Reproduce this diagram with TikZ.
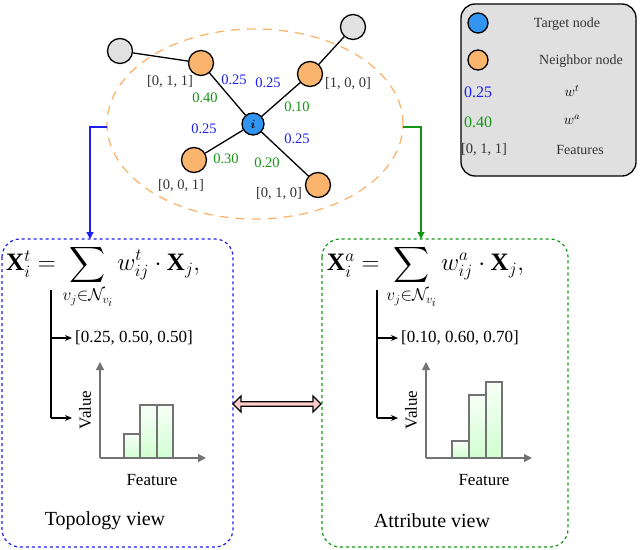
\documentclass[tikz,border=0pt]{standalone}
\usepackage{amsmath,amssymb}
\usepackage{fontspec}
\setmainfont{Liberation Serif}
\usetikzlibrary{arrows.meta,shapes.arrows}
\definecolor{nodeorange}{RGB}{250,180,110}
\definecolor{nodeblue}{RGB}{50,150,240}
\definecolor{nodegray}{RGB}{225,225,225}
\definecolor{wblue}{RGB}{30,30,240}
\definecolor{wgreen}{RGB}{20,150,20}
\tikzset{
  lw/.style={line width=1.3pt},
  nb/.style={circle,draw,lw,fill=nodeorange,minimum size=25pt,inner sep=0pt},
  far/.style={circle,draw,lw,fill=nodegray,minimum size=25pt,inner sep=0pt},
  tgt/.style={circle,draw,lw,fill=nodeblue,minimum size=22pt,inner sep=0pt},
  wt/.style={text=wblue,font=\fontsize{14.5}{16}\selectfont,inner sep=0pt},
  wa/.style={text=wgreen,font=\fontsize{14.5}{16}\selectfont,inner sep=0pt},
  feat/.style={text=black!80,font=\fontsize{14.5}{16}\selectfont,inner sep=0pt},
  small/.style={text=black!80,font=\fontsize{14}{15}\selectfont,inner sep=0pt},
  view/.style={rounded corners=18pt,dashed,line width=1.2pt},
  bar/.style={draw=black!55,line width=1.2pt,top color=green!3,bottom color=green!18},
  ax/.style={draw=black!55,line width=1.2pt,-{Triangle[length=8pt,width=8pt]}},
  lbl/.style={font=\fontsize{17}{18}\selectfont,inner sep=0pt},
  eq/.style={font=\fontsize{25}{28}\selectfont,inner sep=0pt,anchor=west},
  tip/.style={-{Stealth[length=7pt,width=6pt]}},
}
\begin{document}
\begin{tikzpicture}[x=1pt,y=-1pt]
\useasboundingbox (0,0) rectangle (640,549);
% graph
\draw[nodeorange,line width=1.3pt,dash pattern=on 9pt off 7pt] (255,124) ellipse (148pt and 95pt);
\node[tgt] (i) at (253,124) {\large$\boldsymbol{i}$};
\node[nb] (n1) at (201,63) {};
\node[nb] (n2) at (310,74) {};
\node[nb] (n3) at (194,160) {};
\node[nb] (n4) at (318,185) {};
\node[far] (g1) at (120,51) {};
\node[far] (g2) at (353,27) {};
\draw[lw] (i) -- (n1) (i) -- (n2) (i) -- (n3) (i) -- (n4) (n1) -- (g1) (n2) -- (g2);
\node[feat] at (170,82) {[0, 1, 1]};
\node[feat] at (348,84) {[1, 0, 0]};
\node[feat] at (181,186) {[0, 0, 1]};
\node[feat] at (279,194) {[0, 1, 0]};
\node[wt] at (234,80) {0.25};
\node[wt] at (268,83) {0.25};
\node[wt] at (204,129) {0.25};
\node[wt] at (297,139) {0.25};
\node[wa] at (205,98) {0.40};
\node[wa] at (297,107) {0.10};
\node[wa] at (226,159) {0.30};
\node[wa] at (267,163) {0.20};
% views
\draw[view,wblue] (2,239) rectangle (233,547);
\draw[view,wgreen] (322,239) rectangle (568,547);
\coordinate (el) at (107,127);
\coordinate (er) at (403,127);
\draw[wblue,lw,-{Triangle[length=7pt,width=7pt]}] (el) -- (90,127) -- (90,239);
\draw[wgreen,lw,-{Triangle[length=7pt,width=7pt]}] (er) -- (421,127) -- (421,239);
\node[eq] (fl) at (6,277) {$\mathbf{X}_i^t = \displaystyle\sum_{v_j\in\mathcal{N}_{v_i}} w_{ij}^t \cdot \mathbf{X}_j,$};
\node[eq] (fr) at (327,277) {$\mathbf{X}_i^a = \displaystyle\sum_{v_j\in\mathcal{N}_{v_i}} w_{ij}^a \cdot \mathbf{X}_j,$};
% left content
\draw[lw] (51,290) -- (51,418);
\draw[lw,tip] (51,338) -- (72,338);
\draw[lw,tip] (51,418) -- (72,418);
\node[lbl,anchor=west] at (75,338) {[0.25, 0.50, 0.50]};
\draw[bar] (124,458) rectangle (140,434);
\draw[bar] (140,458) rectangle (157,405);
\draw[bar] (157,458) rectangle (173,405);
\draw[ax] (100,458) -- (100,362);
\draw[ax] (100,458) -- (206,458);
\node[lbl,rotate=90] at (85,410) {Value};
\node[lbl] at (152,480) {Feature};
\node[font=\fontsize{20}{22}\selectfont,inner sep=0pt] at (105,521) {Topology view};
% right content
\draw[lw] (377,290) -- (377,418);
\draw[lw,tip] (377,338) -- (398,338);
\draw[lw,tip] (377,418) -- (398,418);
\node[lbl,anchor=west] at (401,338) {[0.10, 0.60, 0.70]};
\draw[bar] (452,458) rectangle (469,441);
\draw[bar] (469,458) rectangle (486,395);
\draw[bar] (486,458) rectangle (502,382);
\draw[ax] (426,458) -- (426,362);
\draw[ax] (426,458) -- (532,458);
\node[lbl,rotate=90] at (411,410) {Value};
\node[lbl] at (484,480) {Feature};
\node[font=\fontsize{20}{22}\selectfont,inner sep=0pt] at (432,521) {Attribute view};
% double arrow
\node[double arrow,draw,lw,fill=red!20,minimum width=16pt,double arrow head extend=4pt,
  minimum height=88pt,inner sep=1pt] (da) at (277,404) {};
% legend
\draw[lw,fill=black!12,rounded corners=14pt] (461,4) rectangle (636,176);
\node[tgt,minimum size=20pt] (lt) at (478,23) {};
\node[nb,minimum size=20pt] (ln) at (478,60) {};
\node[small] at (567,24) {Target node};
\node[small] at (581,61) {Neighbor node};
\node[wt,font=\fontsize{16}{18}\selectfont] at (478,92) {0.25};
\node[wa,font=\fontsize{16}{18}\selectfont] at (478,122) {0.40};
\node[inner sep=0pt,font=\Large] at (572,91) {$w^t$};
\node[inner sep=0pt,font=\Large] at (572,120) {$w^a$};
\node[feat] at (484,150) {[0, 1, 1]};
\node[small] at (580,150) {Features};
\end{tikzpicture}
\end{document}
